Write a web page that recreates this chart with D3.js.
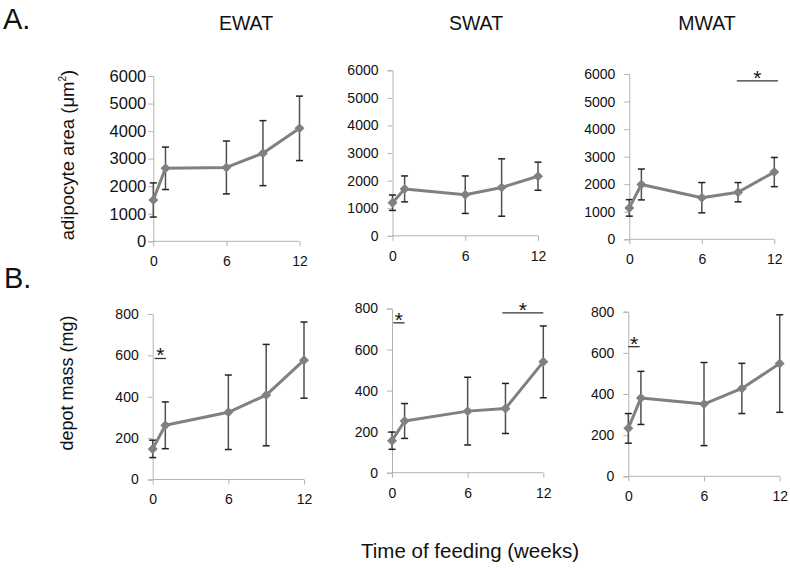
<!DOCTYPE html>
<html><head><meta charset="utf-8">
<script src="https://cdnjs.cloudflare.com/ajax/libs/d3/7.8.5/d3.min.js"></script>
<style>
html,body{margin:0;padding:0;background:#fff;}
svg{display:block;}
</style></head>
<body><svg id="c" width="790" height="568"></svg>
<script>
// ---------- data ----------
const weeks = [0, 1, 6, 9, 12];
const xTicks = [0, 6, 12];
const depots = ["EWAT", "SWAT", "MWAT"];
const areaTicks = [0, 1000, 2000, 3000, 4000, 5000, 6000];
const massTicks = [0, 200, 400, 600, 800];

const areaEWAT = [1500, 2650, 2680, 3200, 4100];
const areaEWATsd = [620, 770, 960, 1180, 1170];
const areaSWAT = [1200, 1700, 1490, 1750, 2160];
const areaSWATsd = [280, 470, 680, 1040, 510];
const areaMWAT = [1140, 1990, 1510, 1710, 2440];
const areaMWATsd = [300, 560, 550, 350, 530];

const massEWAT = [148, 262, 325, 408, 577];
const massEWATsd = [42, 113, 180, 245, 184];
const massSWAT = [156, 252, 300, 313, 540];
const massSWATsd = [42, 85, 165, 122, 175];
const massMWAT = [233, 381, 351, 427, 548];
const massMWATsd = [72, 129, 202, 122, 237];

// significance bars: [panel index, from week, to week, value level]
const sigBars = [
  [2, 8.9, 12.3, 5750],
  [3, 0.15, 1.05, 585],
  [4, 0.1, 1.0, 730],
  [4, 8.75, 12.0, 779],
  [5, 0.0, 0.9, 630]
];

// ---------- layout ----------
const panels = [
  {mean: areaEWAT, sd: areaEWATsd, max: 6000, ticks: areaTicks, x0: 153.3, x1: 299.5, yT: 76, yB: 241.3, fs: 16.5, gap: 7},
  {mean: areaSWAT, sd: areaSWATsd, max: 6000, ticks: areaTicks, x0: 392.5, x1: 538, yT: 70.3, yB: 235.8, fs: 14, gap: 14},
  {mean: areaMWAT, sd: areaMWATsd, max: 6000, ticks: areaTicks, x0: 629.3, x1: 774.3, yT: 74, yB: 239.3, fs: 14, gap: 14},
  {mean: massEWAT, sd: massEWATsd, max: 800, ticks: massTicks, x0: 152.7, x1: 304, yT: 314, yB: 479.5, fs: 14, gap: 14},
  {mean: massSWAT, sd: massSWATsd, max: 800, ticks: massTicks, x0: 392, x1: 543.3, yT: 308.5, yB: 472.7, fs: 14, gap: 14},
  {mean: massMWAT, sd: massMWATsd, max: 800, ticks: massTicks, x0: 628.3, x1: 779.7, yT: 311.7, yB: 476.3, fs: 14, gap: 14}
];

const svg = d3.select("#c");
const tickFont = "'Liberation Sans', Arial, sans-serif";
const textFont = "'Liberation Sans', Arial, sans-serif";
const axisCol = "#b3b3b3";
const lineCol = "#808080";

panels.forEach((p, i) => {
  const x = d3.scaleLinear().domain([0, 12]).range([p.x0, p.x1]);
  const y = d3.scaleLinear().domain([0, p.max]).range([p.yB, p.yT]);
  const g = svg.append("g");

  // y axis
  const ya = g.append("g").attr("transform", `translate(${p.x0},0)`)
    .call(d3.axisLeft(y).tickValues(p.ticks).tickSize(5).tickPadding(p.gap - 5).tickFormat(d3.format("d")));
  ya.select(".domain").attr("stroke", axisCol);
  ya.selectAll(".tick line").attr("stroke", axisCol);
  ya.selectAll(".tick text").attr("font-family", tickFont).attr("font-size", p.fs).attr("fill", "#111");

  // x axis
  const xa = g.append("g").attr("transform", `translate(0,${p.yB})`)
    .call(d3.axisBottom(x).tickValues(xTicks).tickSize(5).tickPadding(10).tickFormat(d3.format("d")));
  xa.select(".domain").attr("stroke", axisCol).attr("d", `M${p.x0},0H${p.x1}`);
  xa.selectAll(".tick line").attr("stroke", axisCol);
  xa.selectAll(".tick text").attr("font-family", tickFont).attr("font-size", 14).attr("fill", "#111");

  const pts = weeks.map((w, k) => ({w, m: p.mean[k], s: p.sd[k]}));

  // error bars
  const eb = g.selectAll(".eb").data(pts).enter().append("g");
  eb.append("line").attr("x1", d => x(d.w)).attr("x2", d => x(d.w))
    .attr("y1", d => y(d.m + d.s)).attr("y2", d => y(d.m - d.s))
    .attr("stroke", "#505050").attr("stroke-width", 1.5);
  [1, -1].forEach(sg => {
    eb.append("line").attr("x1", d => x(d.w) - 3.5).attr("x2", d => x(d.w) + 3.5)
      .attr("y1", d => y(d.m + sg * d.s)).attr("y2", d => y(d.m + sg * d.s))
      .attr("stroke", "#222").attr("stroke-width", 1.5);
  });

  // line
  g.append("path").datum(pts)
    .attr("d", d3.line().x(d => x(d.w)).y(d => y(d.m)))
    .attr("fill", "none").attr("stroke", lineCol).attr("stroke-width", 3).attr("stroke-linejoin", "round");

  // diamonds
  g.selectAll(".mk").data(pts).enter().append("path")
    .attr("transform", d => `translate(${x(d.w)},${y(d.m)})`)
    .attr("d", "M0,-5L5,0L0,5L-5,0Z")
    .attr("fill", lineCol);

  // significance
  sigBars.filter(s => s[0] === i).forEach(s => {
    const xa1 = x(s[1]), xa2 = x(s[2]), yy = y(s[3]);
    g.append("line").attr("x1", xa1).attr("x2", xa2).attr("y1", yy).attr("y2", yy)
      .attr("stroke", "#333").attr("stroke-width", 1.3);
    g.append("text").attr("x", (xa1 + xa2) / 2).attr("y", yy + 4)
      .attr("text-anchor", "middle").attr("font-family", textFont).attr("font-size", 21)
      .attr("fill", "#111").text("*");
  });
});

// depot titles
const titleX = [246, 476, 707];
depots.forEach((d, k) => {
  svg.append("text").attr("x", titleX[k]).attr("y", 30).attr("text-anchor", "middle")
    .attr("font-family", textFont).attr("font-size", 19.5).attr("fill", "#111").text(d);
});

// panel letters
svg.append("text").attr("x", 3).attr("y", 29).attr("font-family", textFont).attr("font-size", 29).attr("fill", "#111").text("A.");
svg.append("text").attr("x", 4).attr("y", 288).attr("font-family", textFont).attr("font-size", 29).attr("fill", "#111").text("B.");

// y labels
const yl1 = svg.append("text").attr("transform", "translate(74,155) rotate(-90)").attr("text-anchor", "middle")
  .attr("font-family", textFont).attr("font-size", 18.5).attr("fill", "#111");
yl1.append("tspan").text("adipocyte area (μm");
yl1.append("tspan").attr("font-size", 10).attr("dy", -8).text("2");
yl1.append("tspan").attr("dy", 8).text(")");

svg.append("text").attr("transform", "translate(73,383) rotate(-90)").attr("text-anchor", "middle")
  .attr("font-family", textFont).attr("font-size", 18).attr("fill", "#111").text("depot mass (mg)");

// x label
svg.append("text").attr("x", 470).attr("y", 558).attr("text-anchor", "middle")
  .attr("font-family", textFont).attr("font-size", 20.5).attr("fill", "#111").text("Time of feeding (weeks)");
</script></body></html>
